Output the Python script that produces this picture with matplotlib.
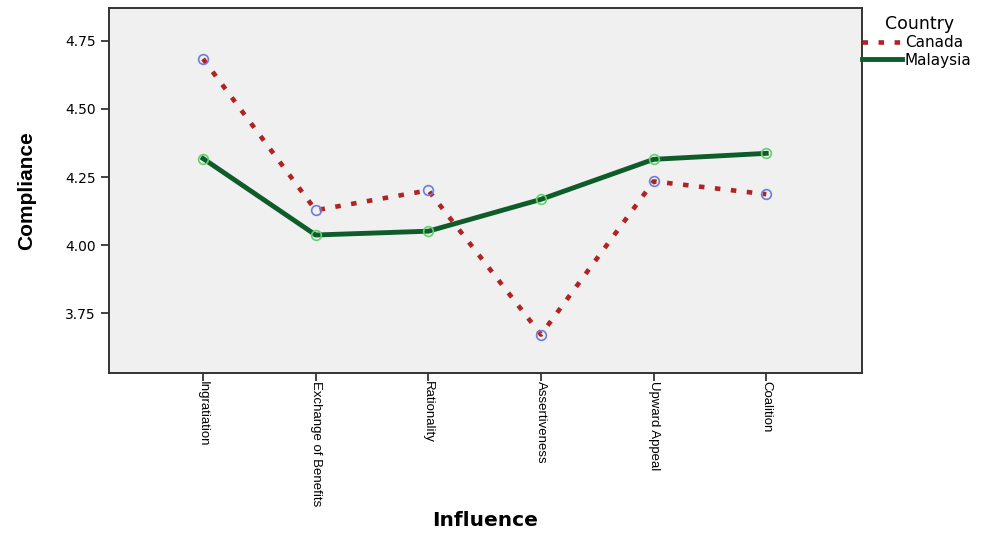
import numpy as np
import matplotlib.pyplot as plt

plt.rcParams["font.family"] = ["DejaVu Sans"]
NARROW = ["Liberation Sans", "DejaVu Sans"]

categories = ["Ingratiation", "Exchange of Benefits", "Rationality",
              "Assertiveness", "Upward Appeal", "Coalition"]
canada = [4.684, 4.128, 4.201, 3.671, 4.234, 4.187]
malaysia = [4.318, 4.037, 4.051, 4.168, 4.315, 4.337]
yticks = [3.75, 4.00, 4.25, 4.50, 4.75]

fig = plt.figure(figsize=(9.85, 5.33), dpi=100)
ax = fig.add_axes([109 / 985, 1 - 373 / 533, (862 - 109) / 985, (373 - 8) / 533])
ax.set_facecolor("#f0f0f0")

x = np.arange(len(categories))
ax.plot(x, canada, color="#b22222", linewidth=3.3, linestyle=(0, (1.2, 2.3)),
        marker="o", markersize=7, markerfacecolor="none",
        markeredgecolor="#6b7fd6", markeredgewidth=1.2, label="Canada")
ax.plot(x, malaysia, color="#0e5c2a", linewidth=3.5,
        marker="o", markersize=7, markerfacecolor="none",
        markeredgecolor="#5fd36a", markeredgewidth=1.2, label="Malaysia")

ax.set_xlim(-0.835, 5.85)
ax.set_ylim(3.53, 4.871)
ax.set_xticks(x)
ax.set_xticklabels(categories, rotation=-90, fontsize=9.5, family=NARROW)
ax.set_yticks(yticks)
ax.set_yticklabels([f"{v:.2f}" for v in yticks], fontsize=10)
ax.tick_params(direction="out", length=6, width=1.2, color="#222222")
ax.tick_params(axis="x", pad=0)

for s in ax.spines.values():
    s.set_color("#333333")
    s.set_linewidth(1.4)

ax.set_ylabel("Compliance", fontsize=15, fontweight="heavy", family=NARROW,
              labelpad=21)
fig.text(485 / 985, 1 - 520 / 533, "Influence", fontsize=14.5, fontweight="bold",
         ha="center", va="center")

fig.text(920 / 985, 1 - 24 / 533, "Country", fontsize=12.5, ha="center", va="center")
leg = ax.legend(loc="upper left", bbox_to_anchor=(1.0, 0.925), frameon=False,
                fontsize=11, handlelength=2.6, handletextpad=0.2,
                labelspacing=0.15, borderaxespad=0.0, borderpad=0.0)
for h in leg.legend_handles:
    h.set_marker("")

fig.savefig("out.png", dpi=100)
